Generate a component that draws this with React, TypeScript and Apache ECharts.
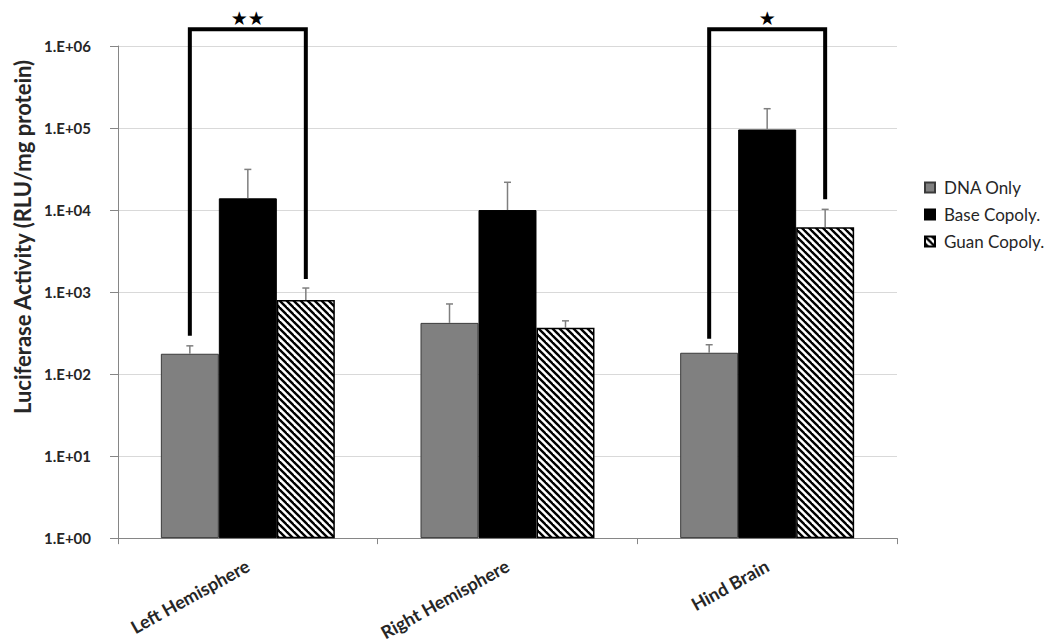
import React, { useEffect, useRef } from "react";
import * as echarts from "echarts";

const categories = ["Left Hemisphere", "Right Hemisphere", "Hind Brain"];
const seriesNames = ["DNA Only", "Base Copoly.", "Guan Copoly."];
const dnaOnly = [177, 421, 182];
const dnaOnlyErrTop = [221, 716, 228];
const baseCopoly = [13900, 10000, 96000];
const baseCopolyErrTop = [31300, 21800, 172000];
const guanCopoly = [802, 366, 6180];
const guanCopolyErrTop = [1120, 446, 10200];
const yTickValues = [1, 10, 100, 1000, 10000, 100000, 1000000];
// bracket: [category index, from series, to series, left leg end value, right leg end value]
const brackets = [
  [0, 0, 2, 293, 1445],
  [2, 0, 2, 270, 13500],
];
const bracketLabels = ["★★", "★"];
const bracketTopValue = 1600000;

const FONT = "Lato, 'Open Sans', sans-serif";
const CAT_GAP = 0.33;

function makeHatch(): HTMLCanvasElement {
  const s = 7;
  const c = document.createElement("canvas");
  c.width = s;
  c.height = s;
  const ctx = c.getContext("2d")!;
  ctx.fillStyle = "#ffffff";
  ctx.fillRect(0, 0, s, s);
  ctx.strokeStyle = "#000000";
  ctx.lineWidth = 2.4;
  for (let k = -1; k <= 1; k++) {
    ctx.beginPath();
    ctx.moveTo(k * s - 1, -1);
    ctx.lineTo(k * s + s + 1, s + 1);
    ctx.stroke();
  }
  return c;
}

export default function App() {
  const ref = useRef<HTMLDivElement>(null);
  useEffect(() => {
    if (!ref.current) return;
    const chart = echarts.init(ref.current, null, { renderer: "svg" });
    const hatch = makeHatch();
    const values = [dnaOnly, baseCopoly, guanCopoly];
    const tops = [dnaOnlyErrTop, baseCopolyErrTop, guanCopolyErrTop];
    const errData: number[][] = [];
    values.forEach((arr, s) => {
      arr.forEach((v, i) => errData.push([i, tops[s][i], v, s]));
    });
    const bandWidth = (params: any) =>
      params.coordSys.width / categories.length;

    chart.setOption({
      animation: false,
      backgroundColor: "#ffffff",
      grid: { left: 118, right: 153, top: 46, bottom: 103, containLabel: false },
      legend: {
        data: seriesNames,
        orient: "vertical",
        left: 919,
        top: 174,
        itemWidth: 10,
        itemHeight: 10,
        itemGap: 10,
        icon: "rect",
        textStyle: {
          fontFamily: FONT,
          fontSize: 17,
          color: "#262626",
          padding: [0, 0, 0, 4],
        },
      },
      graphic: [
        {
          type: "text",
          x: 22,
          y: 237,
          rotation: Math.PI / 2,
          style: {
            text: "Luciferase Activity (RLU/mg protein)",
            font: `bold 22px ${FONT}`,
            fill: "#262626",
            align: "center",
            verticalAlign: "middle",
          },
        },
      ],
      xAxis: {
        type: "category",
        data: categories,
        axisLine: { lineStyle: { color: "#868686", width: 1 } },
        axisTick: { show: true, length: 6, lineStyle: { color: "#868686" } },
        axisLabel: {
          rotate: 29,
          margin: 26,
          fontFamily: FONT,
          fontSize: 18,
          fontWeight: "bold",
          color: "#262626",
        },
      },
      yAxis: {
        type: "log",
        logBase: 10,
        min: yTickValues[0],
        max: yTickValues[yTickValues.length - 1],
        axisLine: { show: true, lineStyle: { color: "#868686", width: 1 } },
        axisTick: { show: true, length: 8, lineStyle: { color: "#868686" } },
        splitLine: { show: true, lineStyle: { color: "#d9d9d9", width: 1 } },
        axisLabel: {
          margin: 27,
          fontFamily: FONT,
          fontSize: 15,
          fontWeight: "bold",
          color: "#262626",
          formatter: (v: number) => {
            const e = Math.round(Math.log10(v));
            return "1.E+" + (e < 10 ? "0" : "") + e;
          },
        },
      },
      series: [
        {
          name: seriesNames[0],
          type: "bar",
          data: dnaOnly,
          barGap: "0%",
          barCategoryGap: CAT_GAP * 100 + "%",
          itemStyle: { color: "#808080", borderColor: "#3a3a3a", borderWidth: 1 },
        },
        {
          name: seriesNames[1],
          type: "bar",
          data: baseCopoly,
          barGap: "0%",
          barCategoryGap: CAT_GAP * 100 + "%",
          itemStyle: { color: "#000000", borderColor: "#000000", borderWidth: 1 },
        },
        {
          name: seriesNames[2],
          type: "bar",
          data: guanCopoly,
          barGap: "0%",
          barCategoryGap: CAT_GAP * 100 + "%",
          itemStyle: {
            color: { image: hatch, repeat: "repeat" },
            borderColor: "#000000",
            borderWidth: 1.5,
          },
        },
        {
          name: "errors",
          type: "custom",
          silent: true,
          z: 5,
          data: errData,
          encode: { x: 0, y: [1, 2] },
          renderItem: (params: any, api: any) => {
            const cat = api.value(0);
            const top = api.value(1);
            const mean = api.value(2);
            const s = api.value(3);
            const bw = (bandWidth(params) * (1 - CAT_GAP)) / 3;
            const p0 = api.coord([cat, mean]);
            const p1 = api.coord([cat, top]);
            const x = p0[0] + (s - 1) * bw;
            const st = { stroke: "#7f7f7f", lineWidth: 1.5 };
            return {
              type: "group",
              children: [
                { type: "line", shape: { x1: x, y1: p0[1], x2: x, y2: p1[1] }, style: st },
                { type: "line", shape: { x1: x - 3.5, y1: p1[1], x2: x + 3.5, y2: p1[1] }, style: st },
              ],
            };
          },
        },
        {
          name: "brackets",
          type: "custom",
          silent: true,
          clip: false,
          z: 6,
          data: brackets.map((b) => [b[0], bracketTopValue, b[3], b[4], b[1], b[2]]),
          encode: { x: 0, y: [1, 2, 3] },
          renderItem: (params: any, api: any) => {
            const cat = api.value(0);
            const topV = api.value(1);
            const lv = api.value(2);
            const rv = api.value(3);
            const fs = api.value(4);
            const ts = api.value(5);
            const bw = (bandWidth(params) * (1 - CAT_GAP)) / 3;
            const c = api.coord([cat, topV]);
            const xl = c[0] + (fs - 1) * bw;
            const xr = c[0] + (ts - 1) * bw;
            const yt = c[1];
            const yl = api.coord([cat, lv])[1];
            const yr = api.coord([cat, rv])[1];
            return {
              type: "group",
              children: [
                {
                  type: "polyline",
                  shape: { points: [[xl, yl], [xl, yt], [xr, yt], [xr, yr]] },
                  style: { stroke: "#000000", lineWidth: 4, fill: "none", lineJoin: "miter" },
                },
                {
                  type: "text",
                  x: (xl + xr) / 2,
                  y: yt - 11,
                  style: {
                    text: bracketLabels[params.dataIndex],
                    font: `19px 'DejaVu Sans', sans-serif`,
                    fill: "#000000",
                    align: "center",
                    verticalAlign: "middle",
                  },
                },
              ],
            };
          },
        },
      ],
    });
    return () => chart.dispose();
  }, []);
  return <div ref={ref} style={{ width: 1050, height: 643, position: "absolute", left: 0, top: 0 }} />;
}
